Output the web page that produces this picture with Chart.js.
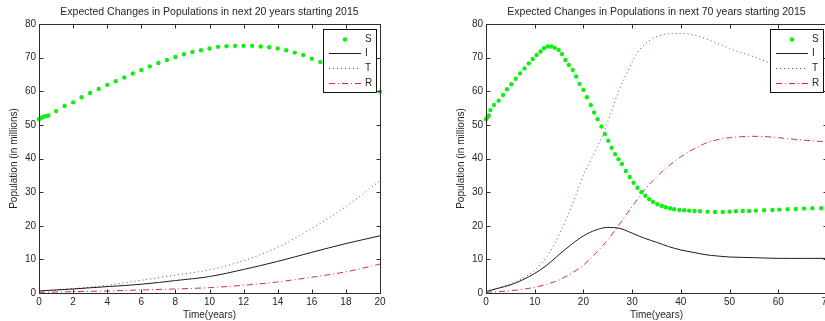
<!DOCTYPE html>
<html><head><meta charset="utf-8">
<script src="https://cdn.jsdelivr.net/npm/chart.js@4.4.0/dist/chart.umd.min.js"></script>
<style>
html,body{margin:0;padding:0;width:825px;height:321px;overflow:hidden;background:#fff;}
canvas{position:absolute;top:0;}
#c1{left:0;}
#c2{left:447px;}
</style></head><body>
<canvas id="c1" width="412" height="321" style="width:412px;height:321px"></canvas>
<canvas id="c2" width="412" height="321" style="width:412px;height:321px"></canvas>
<script>
// ---------------- data ----------------
const seriesNames = ['S', 'I', 'T', 'R'];
const yTickValues = [0, 10, 20, 30, 40, 50, 60, 70, 80];
const xLabel = 'Time(years)';
const yLabel = 'Population (in millions)';

// 20-year subplot
const title20 = 'Expected Changes in Populations in next 20 years starting 2015';
const xTickValues20 = [0, 2, 4, 6, 8, 10, 12, 14, 16, 18, 20];
const sTimes20 = [0, 0.15, 0.25, 0.4, 0.55, 1, 1.5, 2, 2.5, 3, 3.5, 4, 4.5, 5, 5.5, 6, 6.5, 7, 7.5, 8, 8.5, 9, 9.5, 10, 10.5, 11, 11.5, 12, 12.5, 13, 13.5, 14, 14.5, 15, 15.5, 16, 16.5, 17, 17.5, 18, 18.5, 19, 19.5, 20];
const sVals20 = [51.7, 52.1, 52.4, 52.6, 52.8, 54.1, 55.6, 56.7, 58.2, 59.5, 60.7, 61.9, 63.0, 64.1, 65.3, 66.3, 67.4, 68.4, 69.3, 70.2, 71.0, 71.7, 72.2, 72.7, 73.2, 73.4, 73.5, 73.5, 73.5, 73.3, 73.1, 72.7, 72.2, 71.5, 70.8, 69.7, 68.7, 67.6, 66.5, 65.3, 64.0, 62.7, 61.3, 59.9];
const curveTimes20 = [0, 2, 4, 6, 8, 10, 12, 14, 16, 18, 20];
const iVals20 = [0.6, 1.2, 1.9, 2.6, 3.7, 4.9, 7.0, 9.4, 12.1, 14.7, 17.0];
const tVals20 = [0.6, 1.3, 2.3, 3.8, 5.3, 6.9, 9.6, 13.6, 19.2, 25.7, 33.4];
const rVals20 = [0.2, 0.4, 0.6, 0.9, 1.2, 1.6, 2.3, 3.3, 4.7, 6.3, 8.6];

// 70-year subplot
const title70 = 'Expected Changes in Populations in next 70 years starting 2015';
const xTickValues70 = [0, 10, 20, 30, 40, 50, 60, 70];
const sTimes70 = [0, 0.3, 0.55, 0.9, 1.64, 2.6, 3.5, 4.3, 5.2, 6.1, 7.0, 7.9, 8.8, 9.6, 10.4, 11.2, 11.9, 12.7, 13.4, 14.1, 14.9, 15.6, 16.3, 17.0, 17.8, 18.5, 19.2, 20.0, 20.7, 21.5, 22.2, 22.9, 23.7, 24.4, 25.1, 25.8, 26.5, 27.2, 27.9, 28.7, 29.5, 30.3, 31.1, 31.9, 32.7, 33.5, 34.3, 35.2, 36.1, 36.9, 37.8, 38.6, 39.7, 40.7, 41.7, 42.8, 43.9, 45.5, 47.0, 48.6, 50.0, 51.3, 52.7, 54.0, 55.4, 57.1, 58.8, 60.2, 61.9, 63.6, 65.3, 67.0, 68.8, 70.0];
const sVals70 = [51.7, 52.3, 52.8, 54.4, 55.9, 57.2, 58.9, 60.6, 62.1, 63.7, 65.3, 66.8, 68.3, 69.6, 70.8, 71.8, 72.8, 73.3, 73.3, 72.9, 72.3, 71.1, 69.3, 67.8, 66.3, 64.4, 62.2, 60.4, 58.2, 55.9, 53.7, 51.7, 49.5, 47.3, 45.3, 43.2, 41.3, 39.8, 38.4, 36.3, 34.5, 32.8, 31.3, 30.0, 28.9, 27.9, 27.1, 26.4, 25.9, 25.5, 25.2, 24.9, 24.7, 24.6, 24.5, 24.4, 24.3, 24.2, 24.1, 24.1, 24.2, 24.3, 24.4, 24.4, 24.5, 24.6, 24.7, 24.8, 24.9, 25.0, 25.1, 25.2, 25.2, 25.3];
const curveTimes70 = [0, 2.5, 5, 7.5, 10, 12.5, 15, 17.5, 20, 22.5, 25, 27.5, 30, 32.5, 35, 37.5, 40, 42.5, 45, 47.5, 50, 52.5, 55, 57.5, 60, 62.5, 65, 67.5, 70];
const iVals70 = [0.4, 1.4, 2.4, 3.9, 5.8, 8.3, 11.4, 14.4, 17.0, 18.7, 19.5, 19.2, 17.8, 16.3, 15.1, 13.8, 12.8, 12.1, 11.4, 11.0, 10.7, 10.6, 10.5, 10.4, 10.3, 10.3, 10.3, 10.3, 10.3];
const rVals70 = [0.2, 0.4, 0.7, 1.1, 1.7, 2.6, 3.9, 5.8, 8.3, 11.8, 15.8, 20.7, 25.7, 30.6, 34.5, 37.8, 40.5, 42.7, 44.5, 45.6, 46.2, 46.5, 46.6, 46.5, 46.2, 45.8, 45.5, 45.2, 45.0];
const tTimes70 = [0, 2.5, 5, 7.5, 10, 12.5, 15, 17.5, 20, 21.7, 23.8, 25.5, 27.2, 28.9, 31, 33.7, 37.1, 39.9, 42.6, 46.7, 50.8, 54.9, 58.4, 62, 66, 70];
const tVals70 = [0.5, 1.5, 2.7, 4.4, 6.8, 10.8, 17.3, 25.5, 35.0, 40.1, 46.5, 52.9, 59.9, 65.3, 71.3, 75.2, 77.0, 77.2, 76.7, 74.7, 72.3, 70.3, 68.3, 66.9, 65.6, 64.6];

// ---------------- styling ----------------
const FONT = "'Liberation Sans', Arial, sans-serif";
const TEXT = '#262626';
const AXIS = '#2e2e2e';
const GREEN = '#10f010';
const pts = (xs, ys) => xs.map((x, i) => ({x: x, y: ys[i]}));

const frameAndLegend = {
  id: 'frameAndLegend',
  afterDatasetsDraw(chart) {
    const ctx = chart.ctx, ca = chart.chartArea;
    const xs = chart.scales.x, ys = chart.scales.y;
    ctx.save();
    ctx.strokeStyle = AXIS; ctx.lineWidth = 1; ctx.setLineDash([]);
    const L = Math.round(ca.left) + 0.5, R = Math.round(ca.right) + 0.5;
    const T = Math.round(ca.top) + 0.5, B = Math.round(ca.bottom) + 0.5;
    ctx.strokeRect(L, T, R - L, B - T);
    ctx.beginPath();
    xs.ticks.forEach(t => {
      const px = Math.round(xs.getPixelForValue(t.value)) + 0.5;
      ctx.moveTo(px, B); ctx.lineTo(px, B - 4);
      ctx.moveTo(px, T); ctx.lineTo(px, T + 4);
    });
    ys.ticks.forEach(t => {
      const py = Math.round(ys.getPixelForValue(t.value)) + 0.5;
      ctx.moveTo(L, py); ctx.lineTo(L + 4, py);
      ctx.moveTo(R, py); ctx.lineTo(R - 4, py);
    });
    ctx.stroke();
    // legend box
    const w = 53, h = 63;
    const x0 = Math.round(ca.right) - 4 - w, y0 = Math.round(ca.top) + 5;
    ctx.fillStyle = '#fff';
    ctx.fillRect(x0, y0, w, h);
    ctx.strokeStyle = '#111';
    ctx.strokeRect(x0 + 0.5, y0 + 0.5, w, h);
    ctx.font = '10px ' + FONT;
    ctx.textBaseline = 'middle'; ctx.textAlign = 'left';
    chart.data.datasets.forEach((ds, i) => {
      const cy = Math.round(y0 + 9.5 + i * 14.8) + 0.5;
      if (ds.showLine === false) {
        ctx.fillStyle = ds.pointBackgroundColor;
        ctx.beginPath(); ctx.arc(x0 + 22, cy, 2.3, 0, Math.PI * 2); ctx.fill();
      } else {
        ctx.strokeStyle = ds.borderColor; ctx.lineWidth = ds.borderWidth;
        ctx.setLineDash(ds.borderDash || []);
        ctx.beginPath(); ctx.moveTo(x0 + 6, cy); ctx.lineTo(x0 + 38, cy); ctx.stroke();
        ctx.setLineDash([]);
      }
      ctx.fillStyle = TEXT;
      ctx.fillText(ds.label, x0 + 42, cy);
    });
    ctx.restore();
  },
  afterDraw(chart) {
    const ctx = chart.ctx, ca = chart.chartArea;
    ctx.save();
    ctx.font = '10.5px ' + FONT; ctx.fillStyle = TEXT;
    ctx.textAlign = 'center'; ctx.textBaseline = 'middle';
    ctx.fillText(chart.options.plugins.frameAndLegend.title, (ca.left + ca.right) / 2, 12.5);
    ctx.restore();
  }
};

function makeChart(id, title, xMax, xTickValues, sT, sV, iT, iV, tT, tV, rT, rV) {
  const tickFont = {family: FONT, size: 10};
  return new Chart(document.getElementById(id), {
    type: 'scatter',
    data: {
      datasets: [
        {label: seriesNames[0], data: pts(sT, sV), showLine: false, pointRadius: 2.2, pointBorderWidth: 0,
         pointBackgroundColor: GREEN, backgroundColor: GREEN, clip: false},
        {label: seriesNames[1], data: pts(iT, iV), showLine: true, borderColor: '#1c1c1c', borderWidth: 1,
         pointRadius: 0, cubicInterpolationMode: 'monotone'},
        {label: seriesNames[2], data: pts(tT, tV), showLine: true, borderColor: '#4a4ac4', borderWidth: 1,
         borderDash: [1, 3], pointRadius: 0, cubicInterpolationMode: 'monotone'},
        {label: seriesNames[3], data: pts(rT, rV), showLine: true, borderColor: '#d82a4c', borderWidth: 1,
         borderDash: [6, 3, 1, 3], pointRadius: 0, cubicInterpolationMode: 'monotone'}
      ]
    },
    options: {
      responsive: false, animation: false, devicePixelRatio: 1,
      layout: {padding: {top: 24, right: 32, left: 0, bottom: 0}},
      plugins: {legend: {display: false}, tooltip: {enabled: false}, frameAndLegend: {title: title}},
      scales: {
        x: {type: 'linear', min: 0, max: xMax,
            afterBuildTicks: s => { s.ticks = xTickValues.map(v => ({value: v})); },
            afterFit: s => { s.height = 28; },
            grid: {display: false, drawTicks: false}, border: {display: false},
            ticks: {font: tickFont, color: TEXT, padding: 3, maxRotation: 0},
            title: {display: true, text: xLabel, font: tickFont, color: TEXT, padding: {top: 0, bottom: 0}}},
        y: {type: 'linear', min: 0, max: 80,
            afterBuildTicks: s => { s.ticks = yTickValues.map(v => ({value: v})); },
            afterFit: s => { s.width = 39; },
            grid: {display: false, drawTicks: false}, border: {display: false},
            ticks: {font: tickFont, color: TEXT, padding: 3},
            title: {display: true, text: yLabel, font: tickFont, color: TEXT, padding: {top: 8.7, bottom: 0}}}
      }
    },
    plugins: [frameAndLegend]
  });
}

makeChart('c1', title20, 20, xTickValues20, sTimes20, sVals20, curveTimes20, iVals20, curveTimes20, tVals20, curveTimes20, rVals20);
makeChart('c2', title70, 70, xTickValues70, sTimes70, sVals70, curveTimes70, iVals70, tTimes70, tVals70, curveTimes70, rVals70);
</script>
</body></html>
